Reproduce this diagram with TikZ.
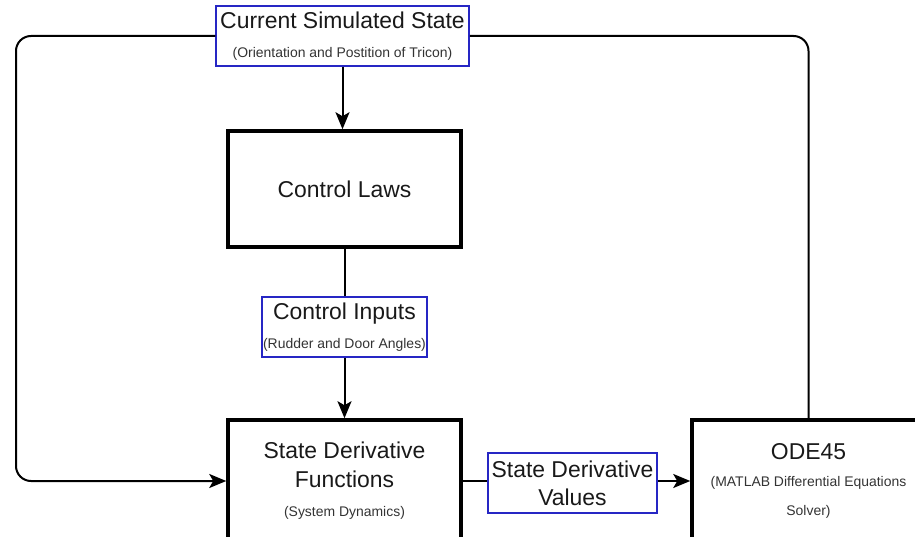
\documentclass[tikz,border=0pt]{standalone}
\usepackage{fontspec}
\setmainfont{Liberation Sans}
\usetikzlibrary{arrows.meta, positioning, calc}
\definecolor{BoxBlue}{HTML}{2626C4}
\definecolor{SubGrey}{HTML}{333333}
\newcommand{\ttl}{\fontsize{23}{28}\selectfont}
\newcommand{\subt}[1]{{\fontsize{14}{28}\selectfont\color{SubGrey}#1}}

\begin{document}
\begin{tikzpicture}[x=1bp, y=-1bp, >={Stealth[length=17bp, width=14bp, inset=4bp]},
  blk/.style={draw, line width=3.5bp, minimum width=233bp, minimum height=116bp,
    align=center, font=\ttl, text=black!90},
  lbl/.style={draw=BoxBlue, line width=1.5bp, fill=white, minimum height=60bp,
    inner sep=1bp, align=center, font=\ttl, text=black!90},
  con/.style={line width=2bp}]
  \useasboundingbox (0,0) rectangle (915,537);
  \clip (0,0) rectangle (915,537);

  \node[lbl, minimum width=253bp] (cur) at (342.5,36)
    {Current Simulated State\\[1bp]\subt{(Orientation and Postition of Tricon)}};
  \node[blk] (laws) at (344.5,189) {Control Laws};
  \node[lbl, minimum width=163bp] (inputs) at (344.5,327)
    {Control Inputs\\[1bp]\subt{(Rudder and Door Angles)}};
  \node[blk, minimum height=122bp] (deriv) at (344.5,481)
    {State Derivative\\[1bp]Functions\\[1bp]\subt{(System Dynamics)}};
  \node[lbl, minimum width=169bp] (values) at (572.5,483)
    {State Derivative\\Values};
  \node[blk, minimum height=122bp] (ode) at (808.5,481)
    {ODE45\\[-1bp]\subt{(MATLAB Differential Equations}\\[2bp]\subt{Solver)}};

  \coordinate (lft) at (16,481);

  \draw[con, ->] (cur.south) -- (cur.south |- laws.north);
  \draw[con] (laws.south) -- (laws.south |- inputs.north);
  \draw[con, ->] (inputs.south) -- (inputs.south |- deriv.north);
  \draw[con] (deriv.east) -- (deriv.east -| values.west);
  \draw[con, ->] (values.east |- deriv.east) -- (ode.west);
  \draw[con, ->, rounded corners=15bp] (cur.west) -| (lft) -- (deriv.west);
  \draw[con, rounded corners=15bp] (cur.east) -| (ode.north);
\end{tikzpicture}
\end{document}
